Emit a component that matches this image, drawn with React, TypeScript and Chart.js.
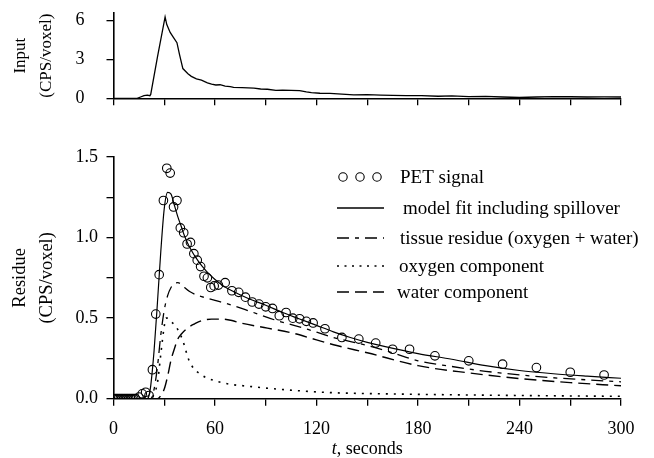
import React, { useEffect, useRef } from 'react';
import { Chart, registerables } from 'chart.js';

Chart.register(...registerables);

const SERIF = "'Liberation Serif', 'Times New Roman', serif";

// ---------- Input (top panel) ----------
const inputT = [0, 14, 16, 18, 20, 21.5, 22, 26, 30.5, 31.5, 33.5, 35.5, 37.5, 39, 41, 44, 46, 49, 52, 55.5, 58, 60.5, 63, 66, 69, 71, 76, 83, 87, 91, 96, 100, 105, 110, 114, 117, 122, 128, 135, 142, 150, 158, 165, 173, 182, 192, 200, 210, 220, 230, 240, 250, 260, 270, 280, 290, 300];
const inputV = [0, 0, 0.1, 0.2, 0.25, 0.2, 0.3, 3.2, 6.3, 5.7, 5.1, 4.7, 4.3, 3.4, 2.3, 1.9, 1.7, 1.5, 1.4, 1.2, 1.1, 1.03, 1.05, 0.95, 0.9, 0.85, 0.82, 0.78, 0.72, 0.7, 0.62, 0.64, 0.62, 0.6, 0.5, 0.44, 0.39, 0.38, 0.32, 0.26, 0.28, 0.24, 0.22, 0.21, 0.2, 0.16, 0.18, 0.13, 0.15, 0.1, 0.06, 0.1, 0.13, 0.12, 0.1, 0.11, 0.1];
const inputYTicks = [0, 1.5, 3, 4.5, 6];

// ---------- Residue (bottom panel) ----------
const petT = [0, 1, 2, 3, 4, 5, 6, 7, 8, 9, 10, 11, 12, 13, 15, 17, 19, 21, 23, 25, 27, 29.5, 31.5, 33.5, 35.5, 37.5, 39.5, 41.5, 43.5, 45.5, 47.5, 49.5, 51.5, 53.5, 55.5, 57.5, 59.5, 62, 66, 70, 74, 78, 82, 86, 90, 94, 98, 102, 106, 110, 114, 118, 125, 135, 145, 155, 165, 175, 190, 210, 230, 250, 270, 290];
const petV = [0, 0, 0, 0, 0, 0, 0, 0, 0, 0, 0, 0, 0, 0, 0.01, 0.03, 0.04, 0.02, 0.18, 0.525, 0.77, 1.23, 1.43, 1.4, 1.19, 1.23, 1.06, 1.03, 0.96, 0.97, 0.9, 0.86, 0.82, 0.76, 0.75, 0.69, 0.7, 0.705, 0.72, 0.67, 0.66, 0.63, 0.6, 0.587, 0.57, 0.56, 0.515, 0.535, 0.5, 0.496, 0.48, 0.47, 0.434, 0.38, 0.37, 0.345, 0.307, 0.307, 0.266, 0.235, 0.214, 0.193, 0.164, 0.147];

const fitT = [0, 20, 21, 22, 24, 26, 28, 30, 32, 34, 36, 38, 40, 42, 45, 50, 55, 60, 65, 70, 80, 90, 100, 110, 120, 130, 140, 150, 160, 180, 200, 220, 240, 260, 280, 300];
const fitV = [0, 0, 0.02, 0.08, 0.3, 0.6, 0.92, 1.18, 1.28, 1.27, 1.2, 1.13, 1.07, 1.01, 0.94, 0.855, 0.79, 0.74, 0.7, 0.67, 0.62, 0.58, 0.535, 0.495, 0.455, 0.415, 0.38, 0.35, 0.325, 0.28, 0.245, 0.205, 0.175, 0.155, 0.14, 0.127];

const tissueT = [0, 22, 24, 26, 28, 30, 32, 34, 36, 38, 40, 42, 45, 50, 55, 60, 67, 80, 95, 115, 130, 150, 165, 180, 200, 220, 240, 260, 280, 300];
const tissueV = [0, 0, 0.06, 0.2, 0.4, 0.55, 0.64, 0.69, 0.715, 0.72, 0.71, 0.69, 0.665, 0.64, 0.625, 0.61, 0.59, 0.545, 0.49, 0.43, 0.38, 0.33, 0.285, 0.235, 0.2, 0.17, 0.148, 0.13, 0.117, 0.105];

const oxygenT = [0, 22, 24, 26, 28, 29, 30, 31, 32, 34, 37, 39, 41, 43, 44, 46, 48, 51, 54, 58, 62, 70, 80, 90, 110, 130, 150, 180, 210, 240, 270, 300];
const oxygenV = [0, 0, 0.03, 0.1, 0.28, 0.37, 0.45, 0.5, 0.5, 0.48, 0.445, 0.41, 0.36, 0.29, 0.255, 0.21, 0.18, 0.155, 0.135, 0.118, 0.105, 0.088, 0.077, 0.066, 0.049, 0.037, 0.032, 0.027, 0.023, 0.02, 0.017, 0.015];

const waterT = [0, 26, 28, 30, 32, 34, 36, 38, 40, 44, 48, 52, 58, 64, 70, 75, 91, 106, 120, 132, 150, 180, 210, 240, 270, 300];
const waterV = [0, 0, 0.02, 0.06, 0.14, 0.24, 0.31, 0.37, 0.4, 0.44, 0.465, 0.484, 0.494, 0.494, 0.485, 0.47, 0.438, 0.407, 0.365, 0.33, 0.285, 0.205, 0.16, 0.125, 0.1, 0.08];

const residueYTicks = [0, 0.25, 0.5, 0.75, 1, 1.25, 1.5];
const xTicks = [0, 30, 60, 90, 120, 150, 180, 210, 240, 270, 300];

const legendLabels = [
  'PET signal',
  'model fit including spillover',
  'tissue residue (oxygen + water)',
  'oxygen component',
  'water component',
];

const pts = (t: number[], v: number[]) => t.map((x, i) => ({ x, y: v[i] }));

const AREA_LEFT = 113.5;
const AREA_RIGHT_PAD = 33;

function xScale(showLabels: boolean, height: number) {
  return {
    type: 'linear',
    min: 0,
    max: 300,
    afterBuildTicks: (s: any) => {
      s.ticks = xTicks.map((v) => ({ value: v }));
    },
    afterFit: (s: any) => {
      s.height = height;
      s.paddingLeft = 0;
      s.paddingRight = 0;
    },
    grid: { drawOnChartArea: false, drawTicks: true, tickLength: 7, color: '#000', lineWidth: 1.3 },
    border: { display: true, color: '#000', width: 1.6 },
    ticks: {
      display: showLabels,
      color: '#000',
      font: { family: SERIF, size: 18, lineHeight: 1.2 },
      padding: 12.5,
      maxRotation: 0,
      minRotation: 0,
      autoSkip: false,
      callback: (v: any) => (Number(v) % 60 === 0 ? String(v) : ''),
    },
  };
}

function yFit(s: any) {
  s.width = AREA_LEFT;
  s.paddingTop = 0;
  s.paddingBottom = 0;
}

const residueOverlay = {
  id: 'residueOverlay',
  afterDraw(chart: any) {
    const ctx = chart.ctx as CanvasRenderingContext2D;
    const off = 115;
    ctx.save();
    ctx.fillStyle = '#000';
    ctx.strokeStyle = '#000';
    ctx.font = `19px ${SERIF}`;
    ctx.textAlign = 'left';
    ctx.textBaseline = 'alphabetic';
    const rows = [177, 208, 238, 266, 292].map((y) => y - off);
    const textX = [400, 403, 400, 399, 397];
    // PET circles
    ctx.lineWidth = 1.1;
    ctx.setLineDash([]);
    [343, 360, 377].forEach((cx) => {
      ctx.beginPath();
      ctx.arc(cx, rows[0], 4.2, 0, Math.PI * 2);
      ctx.stroke();
    });
    const dashes: number[][] = [[], [12, 6, 4, 6], [2, 5.5], [12, 6]];
    dashes.forEach((d, i) => {
      ctx.beginPath();
      ctx.setLineDash(d);
      ctx.lineWidth = i === 2 ? 1.6 : 1.3;
      ctx.moveTo(337, rows[i + 1]);
      ctx.lineTo(384, rows[i + 1]);
      ctx.stroke();
    });
    ctx.setLineDash([]);
    legendLabels.forEach((lab, i) => {
      ctx.fillText(lab, textX[i], rows[i] + 6);
    });
    // x axis title with italic t
    const area = chart.chartArea;
    const cx = (area.left + area.right) / 2;
    const italic = `italic 18px ${SERIF}`;
    const normal = `18px ${SERIF}`;
    ctx.font = italic;
    const wT = ctx.measureText('t').width;
    ctx.font = normal;
    const wRest = ctx.measureText(', seconds').width;
    const startX = cx - (wT + wRest) / 2;
    const baseY = 454 - off;
    ctx.font = italic;
    ctx.fillText('t', startX, baseY);
    ctx.font = normal;
    ctx.fillText(', seconds', startX + wT, baseY);
    ctx.restore();
  },
};

export default function App() {
  const topRef = useRef<HTMLCanvasElement>(null);
  const botRef = useRef<HTMLCanvasElement>(null);

  useEffect(() => {
    const topChart = new Chart(topRef.current as HTMLCanvasElement, {
      type: 'line',
      data: {
        datasets: [
          {
            data: pts(inputT, inputV),
            borderColor: '#000',
            borderWidth: 1.3,
            pointRadius: 0,
            tension: 0,
            fill: false,
          },
        ],
      },
      options: {
        animation: false,
        responsive: true,
        maintainAspectRatio: false,
        layout: { padding: { left: 0, right: AREA_RIGHT_PAD, top: 13, bottom: 0 } },
        plugins: { legend: { display: false }, tooltip: { enabled: false } },
        scales: {
          x: xScale(false, 112 - 98.3) as any,
          y: {
            type: 'linear',
            min: 0,
            max: 6.6,
            afterBuildTicks: (s: any) => {
              s.ticks = inputYTicks.map((v) => ({ value: v }));
            },
            afterFit: yFit,
            grid: { drawOnChartArea: false, drawTicks: true, tickLength: 7, color: '#000', lineWidth: 1.3 },
            border: { display: true, color: '#000', width: 1.6 },
            ticks: {
              color: '#000',
              font: { family: SERIF, size: 18 },
              padding: 22,
              callback: (v: any) => (Number(v) % 3 === 0 ? String(v) : ''),
            },
            title: {
              display: true,
              text: ['Input', '(CPS/voxel)'],
              color: '#000',
              font: { family: SERIF, size: 17, lineHeight: 26 / 17 },
              padding: { top: 8, bottom: 0 },
            },
          },
        },
      },
    });

    const botChart = new Chart(botRef.current as HTMLCanvasElement, {
      type: 'line',
      data: {
        datasets: [
          {
            label: legendLabels[0],
            data: pts(petT, petV),
            showLine: false,
            pointRadius: 4.3,
            pointStyle: 'circle',
            pointBorderColor: '#000',
            pointBackgroundColor: 'rgba(0,0,0,0)',
            pointBorderWidth: 1.1,
            borderColor: '#000',
          },
          {
            label: legendLabels[1],
            data: pts(fitT, fitV),
            borderColor: '#000',
            borderWidth: 1.2,
            pointRadius: 0,
            cubicInterpolationMode: 'monotone',
          },
          {
            label: legendLabels[2],
            data: pts(tissueT, tissueV),
            borderColor: '#000',
            borderWidth: 1.3,
            borderDash: [12, 6, 4, 6],
            pointRadius: 0,
            cubicInterpolationMode: 'monotone',
          },
          {
            label: legendLabels[3],
            data: pts(oxygenT, oxygenV),
            borderColor: '#000',
            borderWidth: 1.6,
            borderDash: [2, 6],
            pointRadius: 0,
            cubicInterpolationMode: 'monotone',
          },
          {
            label: legendLabels[4],
            data: pts(waterT, waterV),
            borderColor: '#000',
            borderWidth: 1.4,
            borderDash: [12, 6],
            pointRadius: 0,
            cubicInterpolationMode: 'monotone',
          },
        ],
      },
      options: {
        animation: false,
        responsive: true,
        maintainAspectRatio: false,
        layout: { padding: { left: 0, right: AREA_RIGHT_PAD, top: 42, bottom: 0 } },
        plugins: { legend: { display: false }, tooltip: { enabled: false } },
        scales: {
          x: xScale(true, 343 - 283.7) as any,
          y: {
            type: 'linear',
            min: 0,
            max: 1.5,
            afterBuildTicks: (s: any) => {
              s.ticks = residueYTicks.map((v) => ({ value: v }));
            },
            afterFit: yFit,
            grid: { drawOnChartArea: false, drawTicks: true, tickLength: 7, color: '#000', lineWidth: 1.3 },
            border: { display: true, color: '#000', width: 1.6 },
            ticks: {
              color: '#000',
              font: { family: SERIF, size: 18 },
              padding: 8.5,
              callback: (v: any) => (Math.abs((Number(v) * 2) % 1) < 1e-9 ? Number(v).toFixed(1) : ''),
            },
            title: {
              display: true,
              text: ['Residue', '(CPS/voxel)'],
              color: '#000',
              font: { family: SERIF, size: 18.5, lineHeight: 27 / 18.5 },
              padding: { top: 6.5, bottom: 0 },
            },
          },
        },
      },
      plugins: [residueOverlay],
    });

    return () => {
      topChart.destroy();
      botChart.destroy();
    };
  }, []);

  return (
    <div style={{ position: 'fixed', left: 0, top: 0, width: 654, height: 458, background: '#fff' }}>
      <div style={{ position: 'absolute', left: 0, top: 0, width: 654, height: 112 }}>
        <canvas ref={topRef} />
      </div>
      <div style={{ position: 'absolute', left: 0, top: 115, width: 654, height: 343 }}>
        <canvas ref={botRef} />
      </div>
    </div>
  );
}
